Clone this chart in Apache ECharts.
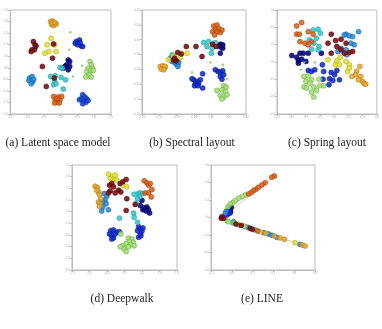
<!DOCTYPE html>
<html>
<head>
<meta charset="utf-8">
<script src="https://cdn.jsdelivr.net/npm/echarts@6/dist/echarts.min.js"></script>
<style>
  html, body { margin: 0; padding: 0; background: #fff; }
  #chart { width: 382px; height: 329px; }
</style>
</head>
<body>
<div id="chart"></div>
<script>
// points are [x %, y %, group]
const latentPts = [
  [40,89,'orange'],[42,89.5,'orange'],[45,87,'orange'],[41,86,'orange'],[43,85,'orange'],[45.5,86.5,'orange'],[41.5,87.5,'orange'],[44,88,'orange'],
  [40.6,72.8,'yellow'],[36.7,66.5,'yellow'],[44,66.5,'yellow'],[34.5,58.5,'yellow'],[38.3,60,'yellow'],[45.4,60,'yellow'],
  [23,69.6,'dred'],[24.6,66.5,'dred'],[21.7,61.7,'dred'],[24,61.7,'dred'],[20.8,60,'dred'],[25.6,65.5,'dred'],[43,67.4,'dred'],[42,53.7,'dred'],
  [32,45.7,'dred'],[43.8,34.5,'dred'],[35.8,26.5,'dred'],
  [65.5,69.6,'blue'],[68.7,71.2,'blue'],[67,66.5,'blue'],[70.3,65.5,'blue'],[64.5,68,'blue'],[69.3,68.7,'blue'],[71.9,64.9,'blue'],
  [57.5,52,'navy'],[59,50.5,'navy'],[56,47.3,'navy'],[54.3,45.7,'navy'],[59,45.7,'navy'],[57.5,42.5,'navy'],[52.7,44,'navy'],
  [79.2,50.5,'green'],[80.5,47.3,'green'],[77.3,44,'green'],[81.5,44,'green'],[76,40.9,'green'],[79.9,41.9,'green'],[82.4,41.9,'green'],[78.3,37.7,'green'],[75,35.5,'green'],[80.5,35.5,'green'],
  [19.2,34.5,'lblue'],[21.7,36.1,'lblue'],[20.8,31.3,'lblue'],[18.5,32.3,'lblue'],[22.4,31.3,'lblue'],[20.8,29,'lblue'],[23.3,33.5,'lblue'],
  [40,36.1,'cyan'],[44.7,36.7,'cyan'],[49.5,44.7,'cyan'],[51.8,44,'cyan'],[50.5,35.1,'cyan'],[55,32.9,'cyan'],[44.1,31.3,'cyan'],[43.1,28.1,'cyan'],[45.4,29.1,'cyan'],[52.7,24,'cyan'],[25,64,'cyan'],
  [43.1,16.9,'ored'],[47.9,16.3,'ored'],[44.7,13.7,'ored'],[49.5,13.7,'ored'],[46.3,11.2,'ored'],[44.1,10.5,'ored'],[51.1,16.9,'ored'],[48.6,10.5,'ored'],[46,15,'ored'],
  [71.9,18.5,'blue2'],[74.1,16.3,'blue2'],[70.3,14.4,'blue2'],[76,14.4,'blue2'],[72.8,12.1,'blue2'],[75.1,11.2,'blue2'],[68.7,13.7,'blue2'],[77.3,13.1,'blue2'],[71.9,9.9,'blue2'],
  [59.7,78.6,'dot'],[58.5,61.7,'dot'],[71.2,46.3,'dot'],[62.3,36.1,'dot']
];

const spectralPts = [
  [68.9,84.7,'ored'],[72.1,85.6,'ored'],[70.5,81.5,'ored'],[73.7,82.4,'ored'],[67.9,79.2,'ored'],[72.1,79.2,'ored'],[75.3,78.3,'ored'],[69.9,76,'ored'],[76.9,80.8,'ored'],
  [59.3,68.7,'cyan'],[64.1,69.6,'cyan'],[70.5,68.7,'cyan'],[62.5,64.9,'cyan'],[67.3,63.3,'cyan'],[66.7,58.5,'cyan'],[29,57,'cyan'],
  [75.3,67.1,'navy'],[77.6,66.5,'navy'],[76.3,64.2,'navy'],[74.4,64.9,'navy'],[77.6,63.3,'navy'],[75.3,58.5,'navy'],[33.7,50.5,'navy'],
  [67.9,67.1,'dred'],[71.2,64.9,'dred'],[57.7,55.3,'dred'],[42.6,64.9,'dred'],[51.9,64.9,'dred'],[34.3,59.1,'dred'],[37.8,57.8,'dred'],[30.4,51.8,'dred'],[32.7,51.1,'dred'],[31.4,53.7,'dred'],
  [27.2,53.7,'lblue'],[30.4,52.7,'lblue'],[32.1,48.9,'lblue'],[33.7,47.3,'lblue'],[35.3,49.5,'lblue'],[28.8,50.5,'lblue'],[34.6,45.7,'lblue'],
  [25.6,52.1,'yellow'],[30.4,55.3,'yellow'],[43.3,58.5,'yellow'],[36.9,54.6,'yellow'],
  [17.6,45.7,'orange'],[19.9,46.3,'orange'],[21.8,44.1,'orange'],[18.6,43.1,'orange'],[22.4,45.7,'orange'],[20.8,42.5,'orange'],
  [49.7,32.9,'blue'],[52.9,31.3,'blue'],[51.3,29.1,'blue'],[54.5,29.7,'blue'],[50.6,27.2,'blue'],[56.1,32.9,'blue'],[58.3,38.7,'blue'],[58.3,24.9,'blue'],[48.1,33.9,'blue'],[53.8,27.2,'blue'],
  [70.5,42.5,'blue'],[73.1,40.9,'blue'],[75.3,39.9,'blue'],[77.6,41.5,'blue'],[75.3,36.1,'blue'],[76.9,33.5,'blue'],[78.5,37.7,'blue'],
  [78.5,27.2,'green'],[80.8,25.9,'green'],[76.9,23.3,'green'],[80.1,21.7,'green'],[75.3,17.6,'green'],[78.5,16.3,'green'],[81.7,18.5,'green'],[76.9,14.4,'green'],[72.1,22.7,'green'],
  [65.7,49.5,'dot'],[77.9,47.3,'dot'],[81.7,33.5,'dot'],[48.1,39.9,'dot'],[30,58,'dot']
];

const springPts = [
  [19.7,84.7,'ored'],[24.7,87.9,'ored'],[19.7,76.7,'ored'],[22.4,76.7,'ored'],[31.3,79.2,'ored'],[36.2,76.7,'ored'],[23,69.6,'ored'],[28,68.1,'ored'],[34.5,69.6,'ored'],[31.3,66.5,'ored'],
  [36.2,80.8,'cyan'],[41.1,81.5,'cyan'],[43.4,77.6,'cyan'],[32.2,71.2,'cyan'],[39.5,72.8,'cyan'],[42.1,64.9,'cyan'],[34.5,62.3,'cyan'],[41.1,61.7,'cyan'],[36.8,68.1,'cyan'],
  [54.3,76.7,'dred'],[51,68.1,'dred'],[58.6,70.6,'dred'],[64.1,71.9,'dred'],[59.9,64.9,'dred'],[54.3,58.5,'dred'],[64.1,61.7,'dred'],[69.1,68.1,'dred'],[72.4,59.1,'dred'],[67.4,58.5,'dred'],[75.7,60.1,'dred'],
  [69.1,76.7,'lblue'],[72.4,75.1,'lblue'],[75.7,74.4,'lblue'],[67.4,76,'lblue'],[81.6,79.2,'lblue'],[74,68.1,'lblue'],[64.1,63.3,'lblue'],[69.1,61.7,'lblue'],[60.9,60.1,'lblue'],[77.3,66.5,'lblue'],[69.7,56.9,'lblue'],
  [14.8,56.2,'navy'],[19.7,54.6,'navy'],[23,58.5,'navy'],[26.3,58.5,'navy'],[21.4,51.4,'navy'],[24.7,52.7,'navy'],[21.4,48.9,'navy'],[31.3,58.5,'navy'],[28.9,50.5,'navy'],[44.4,58.5,'navy'],
  [31.3,41.9,'blue'],[34.5,40.9,'blue'],[37.8,42.5,'blue'],[45.4,47.3,'blue'],[46.7,40.9,'blue'],[54.3,39.9,'blue'],[59.9,41.9,'blue'],[57.6,37.7,'blue'],[52.6,33.9,'blue'],[62.5,32.9,'blue'],[46.1,33.5,'blue'],[55.9,32.3,'blue'],[52,28.1,'blue'],
  [51,52.1,'yellow'],[59.9,51.1,'yellow'],[63.2,54.6,'yellow'],[58.6,47.3,'yellow'],[69.1,50.5,'yellow'],[72.4,47.3,'yellow'],[70.7,40.9,'yellow'],[72.4,44.1,'yellow'],[62.5,47.3,'yellow'],
  [82.9,45.7,'orange'],[79.6,40.9,'orange'],[78.9,37.7,'orange'],[75,36.1,'orange'],[83.9,36.1,'orange'],[85.5,31.3,'orange'],[87.2,29.1,'orange'],[88.8,28.8,'orange'],[81.6,32.9,'orange'],
  [27,36.1,'green'],[31.3,36.7,'green'],[34.5,32.9,'green'],[28.9,31.3,'green'],[42.1,33.5,'green'],[32.9,29.7,'green'],[27,25.9,'green'],[29.6,24.9,'green'],[36.8,25.9,'green'],[42.8,27.2,'green'],[46.7,27.2,'green'],[34.5,20.8,'green'],[36.8,16.3,'green'],[39.5,22.7,'green'],
  [27.3,49.5,'dot'],[37.8,49.5,'dot'],[23.7,42.5,'dot']
];

const deepwalkPts = [
  [34.7,91.3,'yellow'],[37.9,89.4,'yellow'],[41.1,90.4,'yellow'],[39.5,86.2,'yellow'],[36.9,87.2,'yellow'],[42.7,85.6,'yellow'],[48.4,80.8,'yellow'],[52.2,79.2,'yellow'],
  [35.7,80.8,'dred'],[37.9,82.4,'dred'],[39.5,79.2,'dred'],[36.3,75.3,'dred'],[41.1,73.4,'dred'],[44.3,76,'dred'],[46.5,74.4,'dred'],[45.9,82.4,'dred'],[48.4,84,'dred'],[51.6,86.2,'dred'],[34.7,73.4,'dred'],[52.2,67.9,'dred'],[51.6,56.7,'dred'],[60.2,62.5,'dred'],
  [22,79.8,'orange'],[24.2,78.5,'orange'],[25.2,74.4,'orange'],[26.1,72.1,'orange'],[27.4,67.9,'orange'],[25.2,64.7,'orange'],[26.8,63.1,'orange'],[26.1,60.6,'orange'],[23.6,76,'orange'],
  [30.6,72.8,'lblue'],[33.1,70.2,'lblue'],[31.5,67,'lblue'],[29.9,64.7,'lblue'],[29.3,59.9,'lblue'],[28.3,56.1,'lblue'],[34.7,57.4,'lblue'],[32.5,63.1,'lblue'],
  [68.8,84.9,'ored'],[71.3,83,'ored'],[72.9,80.8,'ored'],[74.5,82.4,'ored'],[76.1,76.6,'ored'],[69.7,73.4,'ored'],[72.9,73.4,'ored'],[75.5,69.6,'ored'],
  [59.2,72.1,'cyan'],[63.4,72.8,'cyan'],[65,73.4,'cyan'],[64.3,69.6,'cyan'],[62.4,67.9,'cyan'],[67.5,72.8,'cyan'],[61.1,63.1,'cyan'],[58.6,54.2,'cyan'],[59.2,50.3,'cyan'],[62.4,45.5,'cyan'],[45.2,49.4,'cyan'],
  [65,61.5,'navy'],[68.8,59.3,'navy'],[71.3,59.9,'navy'],[67.5,57.4,'navy'],[72.9,57.4,'navy'],[70.7,56.1,'navy'],[73.9,54.2,'navy'],[66.6,66.3,'navy'],
  [63.4,41.3,'blue'],[65,39.1,'blue'],[62.4,37.5,'blue'],[66.6,36.9,'blue'],[65,34.3,'blue'],[63.4,31.1,'blue'],[65.6,32.7,'blue'],[67.5,40.1,'blue'],
  [36.9,37.5,'blue'],[39.5,38.1,'blue'],[35.7,34.3,'blue'],[37.9,32.7,'blue'],[39.5,30.4,'blue'],[42.7,35.9,'blue'],[45.2,36.5,'blue'],[37.9,29.5,'blue'],[41.1,34.3,'blue'],
  [53.8,30.4,'green'],[57,29.5,'green'],[54.8,27.2,'green'],[58.6,26.3,'green'],[51.6,25.3,'green'],[56,24,'green'],[59.2,23.1,'green'],[48.4,23.1,'green'],[45.9,22.1,'green'],[49.7,19.9,'green'],[51.6,17.6,'green'],[53.8,22.1,'green'],[46.5,34.3,'green']
];

const linePts = [
  [61,89.5,'ored'],[58.5,88.3,'ored'],[52.1,83.2,'ored'],[48.9,81,'ored'],[45.7,78.7,'ored'],[43.1,76.8,'ored'],[40.9,75.6,'ored'],[38.7,73.7,'ored'],[36.1,72.4,'ored'],
  [32.9,71.4,'green'],[29.7,69.8,'green'],[26.5,68.3,'green'],[23.3,66,'green'],[20.8,64.1,'green'],[18.5,62.9,'green'],[16.3,60.3,'green'],[15.3,47,'green'],[16.9,46,'green'],
  [16.9,58.7,'navy'],[18.5,57.1,'navy'],[16.9,55.6,'navy'],[16.3,54,'navy'],[15.3,52.4,'blue'],[19.5,59.7,'navy'],[17.9,54,'blue'],[18.8,55.2,'navy'],[17.5,56.5,'blue'],
  [14.4,55.6,'lblue'],[13.7,54,'lblue'],
  [10.5,50.8,'dred'],[12.1,49.2,'dred'],[9.9,49.2,'dred'],
  [21.7,46,'lblue'],[24,43.8,'dred'],[26.5,42.9,'cyan'],[29.1,42.5,'dred'],[31.3,41.9,'yellow'],[32.9,41.3,'cyan'],[35.5,40.6,'lblue'],[37.7,39.7,'dred'],[39.9,38.7,'dred'],
  [42.5,38.1,'cyan'],[45,37.1,'ored'],[47.3,36.5,'yellow'],[50.5,35.6,'lblue'],[52.7,34.9,'orange'],[55.3,34.3,'lblue'],[58.5,33,'lblue'],[61,32.4,'orange'],
  [63.3,31.1,'lblue'],[66.5,30.5,'orange'],[70.6,29.2,'orange'],[80.8,26,'yellow'],[85.6,24.4,'lblue'],[87.9,23.8,'orange'],[90.4,22.9,'orange'],[20.8,45.1,'cyan'],[23.3,44.4,'yellow']
];

// tick labels (tiny in the original)
const latentX = ['-1.5','-1.0','-0.5','0.0','0.5','1.0','1.5'];
const latentY = ['-2.0','-1.5','-1.0','-0.5','0.0','0.5','1.0','1.5','2.0','2.5'];
const spectralX = ['-0.20','-0.15','-0.10','-0.05','0.00','0.05','0.10'];
const spectralY = ['-0.20','-0.15','-0.10','-0.05','0.00','0.05','0.10','0.15'];
const springX = ['-0.8','-0.6','-0.4','-0.2','0.0','0.2','0.4','0.6'];
const springY = ['-0.6','-0.4','-0.2','0.0','0.2','0.4','0.6'];
const deepwalkX = ['-1.5','-1.0','-0.5','0.0','0.5','1.0','1.5'];
const deepwalkY = ['-2.0','-1.5','-1.0','-0.5','0.0','0.5','1.0','1.5','2.0','2.5'];
const lineX = ['-0.2','0.0','0.2','0.4','0.6','0.8'];
const lineY = ['-0.6','-0.4','-0.2','0.0','0.2','0.4','0.6'];

const captions = ['(a) Latent space model', '(b) Spectral layout', '(c) Spring layout', '(d) Deepwalk', '(e) LINE'];

const colors = {
  navy: '#00008c', blue: '#0c2cd8', blue2: '#1648e6', lblue: '#2490e0', cyan: '#38c8cc',
  green: '#a6de74', yellow: '#e2e22c', orange: '#e9a528', ored: '#de6216', dred: '#7e0a0a', dot: '#8acc6a'
};
const edges = {
  navy: '#000050', blue: '#061880', blue2: '#0a2a90', lblue: '#14609a', cyan: '#229a9c',
  green: '#60a838', yellow: '#a8a810', orange: '#b07410', ored: '#9c3c08', dred: '#4a0404', dot: '#8acc6a'
};

const panels = [
  { pts: latentPts,   xl: latentX,   yl: latentY,   box: [7, 10, 104, 104],   cap: [58, 143] },
  { pts: spectralPts, xl: spectralX, yl: spectralY, box: [142, 10, 104, 104], cap: [192, 143] },
  { pts: springPts,   xl: springX,   yl: springY,   box: [277, 10, 101, 104], cap: [327, 143] },
  { pts: deepwalkPts, xl: deepwalkX, yl: deepwalkY, box: [72, 165, 105, 105], cap: [122, 299] },
  { pts: linePts,     xl: lineX,     yl: lineY,     box: [211, 165, 104, 105], cap: [262, 299] }
];

const chart = echarts.init(document.getElementById('chart'));
const grid = [], xAxis = [], yAxis = [], series = [], graphic = [];

function axis(labels) {
  const n = labels.length - 1;
  return {
    type: 'value', min: 0, max: n, interval: 1,
    axisLine: { show: true, lineStyle: { color: '#bbb', width: 1 } },
    axisTick: { show: true, inside: false, length: 2, lineStyle: { color: '#bbb' } },
    axisLabel: { fontSize: 3, color: '#aaa', margin: 2, formatter: (v) => labels[Math.round(v)] || '' },
    splitLine: { show: false }
  };
}

panels.forEach((p, i) => {
  const [l, t, w, h] = p.box;
  grid.push({ left: l, top: t, width: w, height: h, show: true, borderColor: '#bbb', borderWidth: 1, backgroundColor: 'transparent' });
  xAxis.push(Object.assign(axis(p.xl), { gridIndex: i }));
  yAxis.push(Object.assign(axis(p.yl), { gridIndex: i }));
  const nx = p.xl.length - 1, ny = p.yl.length - 1;
  const conv = (q) => [q[0] / 100 * nx, q[1] / 100 * ny];

  if (i === 4) {
    // faint spine through the two arms
    const top = p.pts.reduce((a, b) => (b[1] > a[1] ? b : a));
    const tip = p.pts.reduce((a, b) => (b[0] < a[0] ? b : a));
    const end = p.pts.reduce((a, b) => (b[0] > a[0] ? b : a));
    series.push({
      type: 'line', xAxisIndex: i, yAxisIndex: i, symbol: 'none', silent: true, z: 1,
      lineStyle: { color: '#c8c0c0', width: 0.8 },
      data: [top, tip, end].map(conv)
    });
  }

  Object.keys(colors).forEach((g) => {
    const d = p.pts.filter((q) => q[2] === g).map(conv);
    if (!d.length) return;
    series.push({
      type: 'scatter', xAxisIndex: i, yAxisIndex: i, silent: true, z: 2,
      symbolSize: g === 'dot' ? 2.5 : 5,
      itemStyle: { color: colors[g], opacity: 0.88, borderColor: edges[g], borderWidth: g === 'dot' ? 0 : 0.6 },
      data: d
    });
  });

  graphic.push({
    type: 'text', x: p.cap[0], y: p.cap[1],
    style: { text: captions[i], font: '11.5px "Liberation Serif", serif', fill: '#222', textAlign: 'center', textVerticalAlign: 'middle' }
  });
});

chart.setOption({ animation: false, backgroundColor: '#fff', grid, xAxis, yAxis, series, graphic });
</script>
</body>
</html>
